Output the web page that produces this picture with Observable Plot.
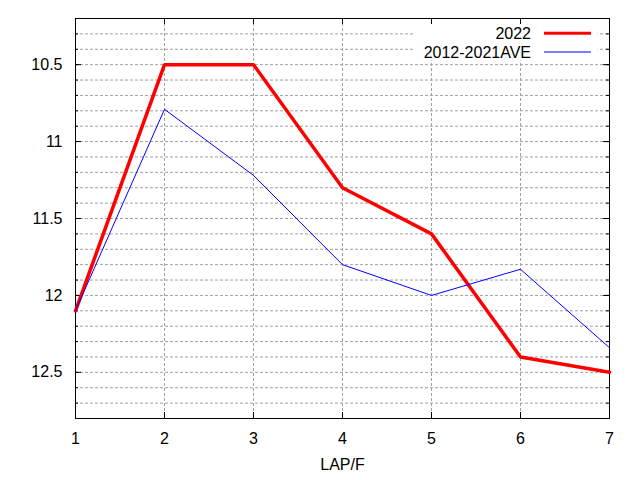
<!DOCTYPE html>
<html>
<head>
<meta charset="utf-8">
<script src="https://cdn.jsdelivr.net/npm/d3@7"></script>
<script src="https://cdn.jsdelivr.net/npm/@observablehq/plot@0.6"></script>
<style>
  body { margin: 0; background: #fff; }
  svg { display: block; }
</style>
</head>
<body>
<div id="chart"></div>
<script>
// lap number on x, value per lap on a reversed y axis
const laps = [1, 2, 3, 4, 5, 6, 7]
const val2022 = [12.1, 10.5, 10.5, 11.3, 11.6, 12.4, 12.5]
const valAve = [12.1, 10.79, 11.22, 11.8, 12.0, 11.83, 12.34]
const seriesNames = ["2022", "2012-2021AVE"]
const seriesColors = ["#ff0000", "#0000ff"]
const seriesWidths = [3.5, 1]

const xTicks = [1, 2, 3, 4, 5, 6, 7]
const yTicks = [10.5, 11, 11.5, 12, 12.5]
const yMinor = [10.3, 10.4, 10.5, 10.6, 10.7, 10.8, 10.9, 11, 11.1, 11.2, 11.3, 11.4,
  11.5, 11.6, 11.7, 11.8, 11.9, 12, 12.1, 12.2, 12.3, 12.4, 12.5, 12.6, 12.7]

const rows = [val2022, valAve].flatMap((vals, i) =>
  laps.map((lap, j) => ({series: seriesNames[i], lap, value: vals[j]})))

const W = 640, H = 480
const mL = 75, mR = 31, mT = 18, mB = 62
const pw = W - mL - mR, ph = H - mT - mB
const font = "'Liberation Sans', Arial, sans-serif"
const grid = {stroke: "#a0a0a0", strokeOpacity: 1, strokeDasharray: "3,2"}

const chart = Plot.plot({
  width: W,
  height: H,
  marginLeft: mL,
  marginRight: mR,
  marginTop: mT,
  marginBottom: mB,
  style: {fontFamily: font, fontSize: "16px", color: "black", background: "white"},
  x: {domain: [1, 7]},
  y: {domain: [10.2, 12.8], reverse: true},
  marks: [
    Plot.gridY(yMinor, grid),
    Plot.gridX(xTicks, grid),
    // opaque key box
    Plot.frame({fill: "white", stroke: null, insetLeft: 338, insetRight: 12, insetTop: 1, insetBottom: 358}),
    Plot.frame({stroke: "black", strokeWidth: 1}),
    // inward ticks, mirrored on all sides
    Plot.tickY(yMinor, {y: d => d, stroke: "black", insetRight: pw - 3}),
    Plot.tickY(yMinor, {y: d => d, stroke: "black", insetLeft: pw - 3}),
    Plot.tickY(yTicks, {y: d => d, stroke: "black", insetRight: pw - 6}),
    Plot.tickY(yTicks, {y: d => d, stroke: "black", insetLeft: pw - 6}),
    Plot.tickX(xTicks, {x: d => d, stroke: "black", insetTop: ph - 6}),
    Plot.tickX(xTicks, {x: d => d, stroke: "black", insetBottom: ph - 6}),
    Plot.axisY({ticks: yTicks, tickSize: 0, tickPadding: 13, tickFormat: d => String(d), label: null}),
    Plot.axisX({ticks: xTicks, tickSize: 0, tickPadding: 14, tickFormat: d => String(d),
      label: "LAP/F", labelAnchor: "center", labelArrow: "none", labelOffset: 51}),
    Plot.line(rows.filter(d => d.series === seriesNames[0]),
      {x: "lap", y: "value", stroke: seriesColors[0], strokeWidth: seriesWidths[0], strokeLinejoin: "miter"}),
    Plot.line(rows.filter(d => d.series === seriesNames[1]),
      {x: "lap", y: "value", stroke: seriesColors[1], strokeWidth: seriesWidths[1]})
  ]
})

// key, top right inside the plot
const svg = d3.select(chart)
const key = svg.append("g")
  .attr("font-family", font)
  .attr("font-size", 16)
seriesNames.forEach((name, i) => {
  const cy = 33.3 + i * 18.7
  key.append("text")
    .attr("x", 531).attr("y", cy).attr("dy", "0.35em")
    .attr("text-anchor", "end").attr("fill", "black")
    .text(name)
  key.append("line")
    .attr("x1", 544).attr("x2", 591).attr("y1", cy).attr("y2", cy)
    .attr("stroke", seriesColors[i]).attr("stroke-width", seriesWidths[i] === 1 ? 1 : 3)
})

d3.select("#chart").append(() => chart)
</script>
</body>
</html>
